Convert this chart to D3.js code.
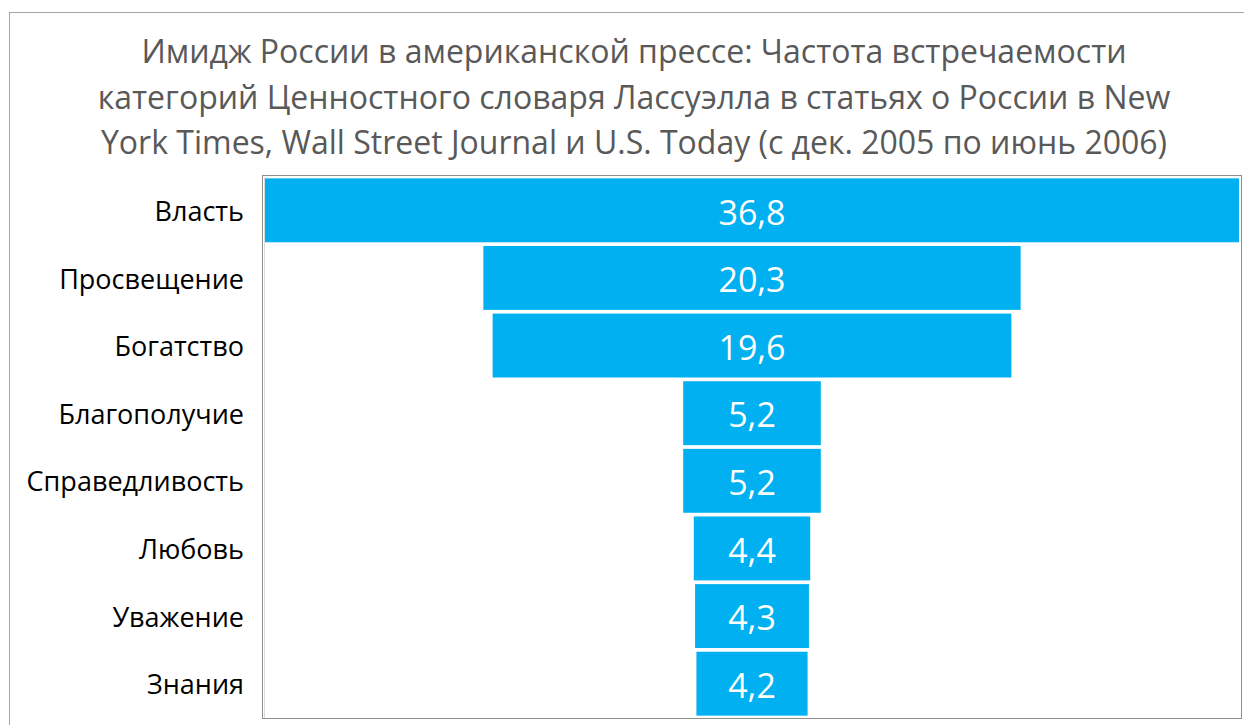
<!DOCTYPE html>
<html>
<head>
<meta charset="utf-8">
<script src="https://cdn.jsdelivr.net/npm/d3@7"></script>
<style>
  body { margin: 0; background: #fff; }
  svg { display: block; font-family: "Open Sans", "Noto Sans", sans-serif; }
</style>
</head>
<body>
<div id="chart"></div>
<script>
// values
const categories = ["Власть", "Просвещение", "Богатство", "Благополучие", "Справедливость", "Любовь", "Уважение", "Знания"];
const values = [36.8, 20.3, 19.6, 5.2, 5.2, 4.4, 4.3, 4.2];
const titleLines = [
    "Имидж России в американской прессе: Частота встречаемости",
    "категорий Ценностного словаря Лассуэлла в статьях о России в New",
    "York Times, Wall Street Journal и U.S. Today (с дек. 2005 по июнь 2006)"
];

const W = 1244, H = 725;
const plot = {left: 262, right: 1241, top: 175, bottom: 718};

const svg = d3.select("#chart")
    .append("svg")
    .attr("width", W)
    .attr("height", H);

// outer chart frame (cut off at right / bottom like the screenshot)
svg.append("rect")
    .attr("x", 9.5).attr("y", 12.5)
    .attr("width", W).attr("height", H)
    .attr("fill", "#fff")
    .attr("stroke", "#a6a6a6");

svg.append("g")
    .selectAll("text")
    .data(titleLines)
    .join("text")
    .attr("x", 634)
    .attr("y", (d, i) => 63 + i * 45.5)
    .attr("text-anchor", "middle")
    .attr("fill", "#595959")
    .style("font-size", "32px")
    .text(d => d);

// plot area frame
svg.append("rect")
    .attr("x", plot.left + 0.5).attr("y", plot.top + 0.5)
    .attr("width", plot.right - plot.left).attr("height", plot.bottom - plot.top)
    .attr("fill", "#fff")
    .attr("stroke", "#8f8f8f");
svg.append("line")
    .attr("x1", plot.left + 2.5).attr("x2", plot.left + 2.5)
    .attr("y1", plot.top + 2).attr("y2", plot.bottom)
    .attr("stroke", "#dcdcdc");

const inner = {left: plot.left + 3, right: plot.right - 2};
const cx = (inner.left + inner.right) / 2;

const xScale = d3.scaleLinear()
    .domain([0, d3.max(values)])
    .range([0, inner.right - inner.left]);

const yScale = d3.scaleBand()
    .domain(categories)
    .range([plot.top + 2, plot.bottom - 1])
    .paddingInner(0.055)
    .paddingOuter(0.02);

const rows = categories.map((c, i) => ({name: c, value: values[i]}));

svg.append("g")
    .selectAll("rect")
    .data(rows)
    .join("rect")
    .attr("x", d => cx - xScale(d.value) / 2)
    .attr("y", d => yScale(d.name))
    .attr("width", d => xScale(d.value))
    .attr("height", yScale.bandwidth())
    .attr("fill", "#00b0f0");

svg.append("g")
    .selectAll("text")
    .data(rows)
    .join("text")
    .attr("x", cx)
    .attr("y", d => yScale(d.name) + yScale.bandwidth() / 2 + 2)
    .attr("dy", "0.36em")
    .attr("text-anchor", "middle")
    .attr("fill", "#fff")
    .style("font-size", "34px")
    .text(d => d3.format(".1f")(d.value).replace(".", ","));

// category axis
const yAxis = d3.axisLeft(yScale).tickSize(0).tickPadding(18);
svg.append("g")
    .attr("transform", `translate(${plot.left}, 2)`)
    .call(yAxis)
    .call(g => g.select(".domain").remove())
    .selectAll("text")
    .attr("fill", "#000")
    .style("font-family", "'Open Sans', 'Noto Sans', sans-serif")
    .style("font-size", "27px");
</script>
</body>
</html>
